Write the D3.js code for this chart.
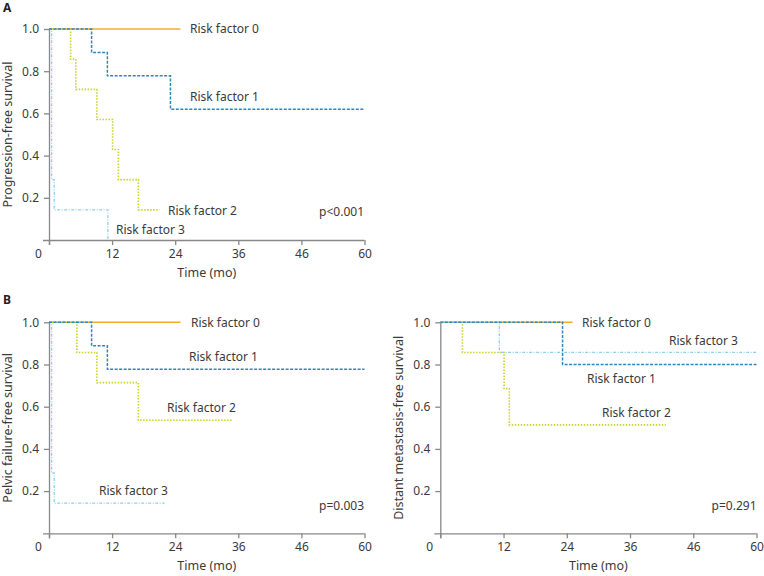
<html>
<head>
  <script src="https://d3js.org/d3.v7.min.js"></script>
  <style>
    body { margin: 0; background: #fff; }
    text { font-family: "Noto Sans", sans-serif; fill: #3a3a3a; }
    .axis path, .axis line { stroke: #888; stroke-width: 1.3; }
    .axis text { font-size: 12px; fill: #3a3a3a; }
  </style>
</head>
<body>
  <svg id="km" width="764" height="576"></svg>
  <script>
    // tick labels (the original figure labels the 48 tick as "46")
    const timeTicks = [0, 12, 24, 36, 48, 60];
    const timeTickLabels = ["0", "12", "24", "36", "46", "60"];
    const survTicks = [0.2, 0.4, 0.6, 0.8, 1.0];

    // [time (mo), survival] at each change point, step after
    // A: progression-free survival
    const pfsRisk0 = [[0, 1], [25, 1]];
    const pfsRisk1 = [[0, 1], [8.1, 0.889], [11.1, 0.778], [23.1, 0.62], [60, 0.62]];
    const pfsRisk2 = [[0, 1], [4.1, 0.857], [5.1, 0.714], [9.1, 0.571], [12.1, 0.429], [13.2, 0.286], [17.0, 0.143], [21.0, 0.143]];
    const pfsRisk3 = [[0, 1], [0.5, 0.286], [1.0, 0.143], [11.2, 0]];

    // B left: pelvic failure-free survival
    const pffsRisk0 = [[0, 1], [25, 1]];
    const pffsRisk1 = [[0, 1], [8.1, 0.889], [11.1, 0.778], [60, 0.778]];
    const pffsRisk2 = [[0, 1], [5.3, 0.857], [9.1, 0.714], [17.0, 0.536], [35.0, 0.536]];
    const pffsRisk3 = [[0, 1], [0.5, 0.286], [1.0, 0.143], [22.0, 0.143]];

    // B right: distant metastasis-free survival
    const dmfsRisk0 = [[0, 1], [25.1, 1]];
    const dmfsRisk1 = [[0, 1], [23.2, 0.8], [60, 0.8]];
    const dmfsRisk2 = [[0, 1], [4.2, 0.857], [12.1, 0.686], [13.1, 0.514], [42.8, 0.514]];
    const dmfsRisk3 = [[0, 1], [11.2, 0.857], [60, 0.857]];

    const styles = {
      r0: { color: "#f4aa2c", dash: null, width: 1.6 },
      r1: { color: "#2f87b8", dash: "3,1.5", width: 1.5 },
      r2: { color: "#c8d42c", dash: "1.5,1.5", width: 1.6 },
      r3: { color: "#8fd0ee", dash: "3,1.5,1,1.5", width: 1.3 }
    };

    const svg = d3.select("svg#km");

    function drawPanel(p) {
      const x = d3.scaleLinear().domain([0, 60]).range([p.left, p.right]);
      const y = d3.scaleLinear().domain([0, 1]).range([p.bottom, p.top]);
      const g = svg.append("g");

      // x axis
      const xAxis = g.append("g")
        .attr("class", "axis")
        .attr("transform", `translate(0,${p.bottom})`)
        .call(d3.axisBottom(x).tickValues(timeTicks).tickSize(5).tickPadding(4)
          .tickFormat((d, i) => timeTickLabels[i]));
      xAxis.select(".domain").attr("d", `M${p.left - 6},0.5H${p.right}`);
      xAxis.selectAll(".tick text").filter(d => d === 0).attr("dx", -11);

      // y axis
      const yAxis = g.append("g")
        .attr("class", "axis")
        .attr("transform", `translate(${p.left},0)`)
        .call(d3.axisLeft(y).tickValues(survTicks).tickSize(5).tickPadding(5)
          .tickFormat(d3.format(".1f")));
      yAxis.select(".domain").attr("d", `M0.5,${p.top}V${p.bottom + 5}`);

      const line = d3.line()
        .x(d => x(d[0]))
        .y(d => y(d[1]))
        .curve(d3.curveStepAfter);

      p.curves.forEach(c => {
        const s = styles[c.key];
        g.append("path")
          .datum(c.data)
          .attr("d", line)
          .attr("fill", "none")
          .attr("stroke", s.color)
          .attr("stroke-width", s.width)
          .attr("stroke-dasharray", s.dash);
      });

      p.labels.forEach(l => {
        g.append("text")
          .attr("x", l.x)
          .attr("y", l.y)
          .attr("dy", "0.35em")
          .attr("text-anchor", l.anchor || "start")
          .style("font-size", "12px")
          .text(l.text);
      });

      g.append("text")
        .attr("transform", `translate(${p.ylabelX},${(p.top + p.bottom) / 2}) rotate(-90)`)
        .attr("text-anchor", "middle")
        .attr("dy", "0.35em")
        .style("font-size", "12.5px")
        .text(p.ylabel);

      g.append("text")
        .attr("x", (p.left + p.right) / 2)
        .attr("y", p.bottom + 37)
        .attr("text-anchor", "middle")
        .style("font-size", "12.5px")
        .text("Time (mo)");
    }

    drawPanel({
      left: 49, right: 364.5, top: 29, bottom: 240, ylabelX: 8,
      ylabel: "Progression-free survival",
      curves: [
        { key: "r0", data: pfsRisk0 },
        { key: "r3", data: pfsRisk3 },
        { key: "r2", data: pfsRisk2 },
        { key: "r1", data: pfsRisk1 }
      ],
      labels: [
        { text: "Risk factor 0", x: 190, y: 29 },
        { text: "Risk factor 1", x: 190, y: 97 },
        { text: "Risk factor 2", x: 168, y: 211 },
        { text: "Risk factor 3", x: 116, y: 230 },
        { text: "p<0.001", x: 364, y: 212, anchor: "end" }
      ]
    });

    drawPanel({
      left: 49, right: 364.5, top: 322.3, bottom: 533.3, ylabelX: 8,
      ylabel: "Pelvic failure-free survival",
      curves: [
        { key: "r0", data: pffsRisk0 },
        { key: "r3", data: pffsRisk3 },
        { key: "r2", data: pffsRisk2 },
        { key: "r1", data: pffsRisk1 }
      ],
      labels: [
        { text: "Risk factor 0", x: 191, y: 322.7 },
        { text: "Risk factor 1", x: 189, y: 357 },
        { text: "Risk factor 2", x: 167, y: 408 },
        { text: "Risk factor 3", x: 99, y: 491 },
        { text: "p=0.003", x: 364, y: 506, anchor: "end" }
      ]
    });

    drawPanel({
      left: 440.3, right: 756.5, top: 322.3, bottom: 533.3, ylabelX: 399,
      ylabel: "Distant metastasis-free survival",
      curves: [
        { key: "r0", data: dmfsRisk0 },
        { key: "r2", data: dmfsRisk2 },
        { key: "r3", data: dmfsRisk3 },
        { key: "r1", data: dmfsRisk1 }
      ],
      labels: [
        { text: "Risk factor 0", x: 582, y: 322.7 },
        { text: "Risk factor 3", x: 669, y: 341 },
        { text: "Risk factor 1", x: 587, y: 379 },
        { text: "Risk factor 2", x: 602, y: 413 },
        { text: "p=0.291", x: 756.5, y: 506, anchor: "end" }
      ]
    });

    // panel letters
    svg.append("text").attr("x", 3).attr("y", 12)
      .style("font-size", "12px").style("font-weight", "bold").style("fill", "#222").text("A");
    svg.append("text").attr("x", 3).attr("y", 304)
      .style("font-size", "12px").style("font-weight", "bold").style("fill", "#222").text("B");
  </script>
</body>
</html>
